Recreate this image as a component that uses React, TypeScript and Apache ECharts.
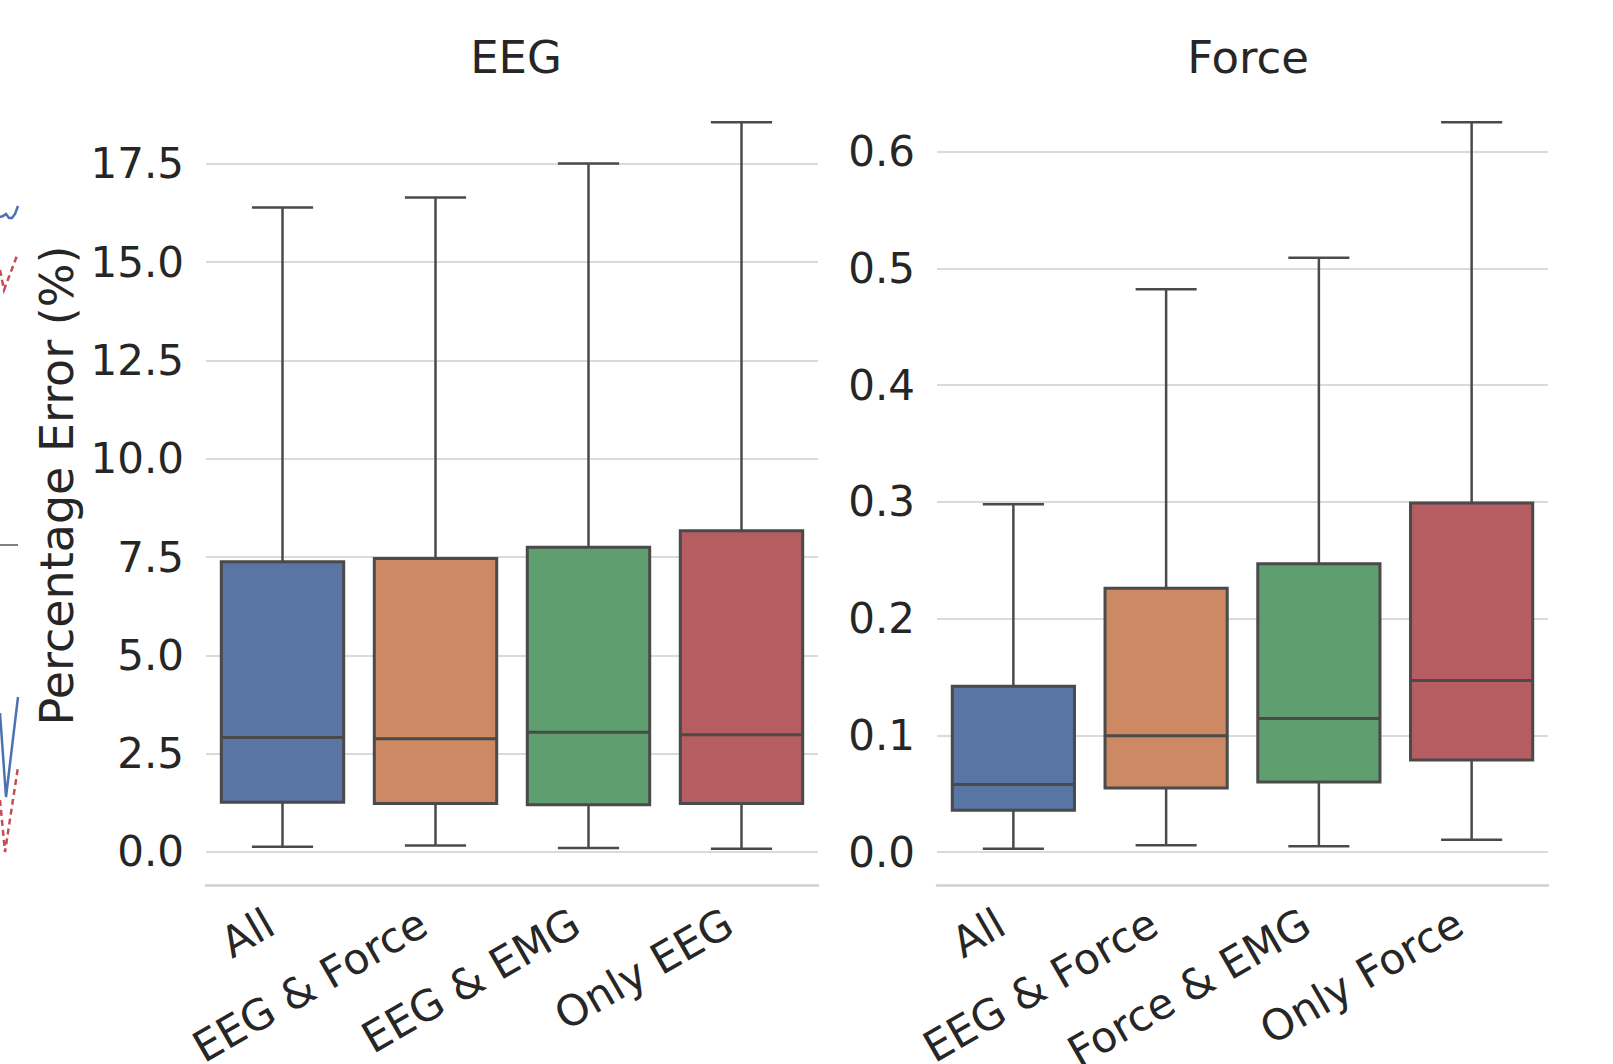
import React, { useEffect, useRef } from "react";
import * as echarts from "echarts";

// ---------- data ----------
const eegCategories = ["All", "EEG & Force", "EEG & EMG", "Only EEG"];
const forceCategories = ["All", "EEG & Force", "Force & EMG", "Only Force"];

// EEG panel (Percentage Error %)
const eegLower = [0.13, 0.16, 0.1, 0.08];
const eegQ1 = [1.26, 1.23, 1.2, 1.23];
const eegMedian = [2.91, 2.88, 3.04, 2.98];
const eegQ3 = [7.38, 7.46, 7.75, 8.17];
const eegUpper = [16.39, 16.65, 17.51, 18.56];

// Force panel
const forceLower = [0.003, 0.006, 0.005, 0.0106];
const forceQ1 = [0.036, 0.055, 0.06, 0.079];
const forceMedian = [0.058, 0.0996, 0.1145, 0.147];
const forceQ3 = [0.142, 0.226, 0.247, 0.299];
const forceUpper = [0.298, 0.482, 0.509, 0.625];

const boxColors = ["#5875a4", "#cc8963", "#5f9e6e", "#b55d60"];

const FONT = "DejaVu Sans";
const TEXT = "#262626";
const EDGE = "#4a4a4a";

function rows(lo: number[], q1: number[], med: number[], q3: number[], hi: number[]) {
  return lo.map((v, i) => [i, v, q1[i], med[i], q3[i], hi[i]]);
}

function axisRange(lo: number[], hi: number[]) {
  const mn = Math.min(...lo);
  const mx = Math.max(...hi);
  const m = (mx - mn) * 0.05;
  return [mn - m, mx + m];
}

function renderBox(params: any, api: any) {
  const idx = api.value(0);
  const lo = api.coord([idx, api.value(1)]);
  const q1 = api.coord([idx, api.value(2)]);
  const med = api.coord([idx, api.value(3)]);
  const q3 = api.coord([idx, api.value(4)]);
  const hi = api.coord([idx, api.value(5)]);
  const band = api.size([1, 0])[0];
  const bw = band * 0.8;
  const cw = band * 0.4;
  const x = lo[0];
  const ws = { stroke: EDGE, lineWidth: 2.5 };
  return {
    type: "group",
    children: [
      { type: "line", shape: { x1: x, y1: q3[1], x2: x, y2: hi[1] }, style: ws },
      { type: "line", shape: { x1: x, y1: q1[1], x2: x, y2: lo[1] }, style: ws },
      { type: "line", shape: { x1: x - cw / 2, y1: hi[1], x2: x + cw / 2, y2: hi[1] }, style: ws },
      { type: "line", shape: { x1: x - cw / 2, y1: lo[1], x2: x + cw / 2, y2: lo[1] }, style: ws },
      {
        type: "rect",
        shape: { x: x - bw / 2, y: q3[1], width: bw, height: q1[1] - q3[1] },
        style: { fill: boxColors[params.dataIndex], stroke: EDGE, lineWidth: 3 },
      },
      { type: "line", shape: { x1: x - bw / 2, y1: med[1], x2: x + bw / 2, y2: med[1] }, style: { stroke: EDGE, lineWidth: 3 } },
    ],
  };
}

function xAxisFor(gridIndex: number, data: string[]) {
  return {
    type: "category",
    gridIndex,
    data,
    boundaryGap: true,
    axisLine: { show: true, onZero: false, lineStyle: { color: "#cfcfcf", width: 2.5 } },
    axisTick: { show: false },
    splitLine: { show: false },
    axisLabel: {
      interval: 0,
      rotate: 30,
      margin: 28,
      padding: [0, 14, 0, 0],
      fontSize: 42.5,
      color: TEXT,
      fontFamily: FONT,
    },
  };
}

function yAxisFor(gridIndex: number, range: number[], step: number, name: string) {
  return {
    type: "value",
    gridIndex,
    min: range[0],
    max: range[1],
    splitNumber: 8,
    minInterval: step,
    maxInterval: step,
    name,
    nameLocation: "middle",
    nameRotate: 90,
    nameGap: 126,
    nameTextStyle: { fontSize: 46, color: TEXT, fontFamily: FONT },
    axisLine: { show: false },
    axisTick: { show: false },
    axisLabel: {
      showMinLabel: false,
      showMaxLabel: false,
      margin: 22,
      fontSize: 42,
      color: TEXT,
      fontFamily: FONT,
      formatter: (v: number) => {
        const k = v / step;
        return Math.abs(k - Math.round(k)) < 1e-6 ? v.toFixed(1) : "";
      },
    },
    splitLine: {
      show: true,
      showMinLine: false,
      showMaxLine: false,
      lineStyle: { color: "#dadada", width: 2 },
    },
  };
}

// fragments of the neighbouring (cropped) figure at the left edge
const fragBlueTop = [[0, 217], [3, 216], [6, 214], [9, 218], [12, 218], [15, 214], [18, 206]];
const fragRedTop = [[0, 270], [4, 290], [18, 253]];
const fragBlueBottom = [[0, 713], [6, 797], [18, 697]];
const fragRedBottom = [[0, 800], [5, 852], [18, 767]];

export default function App() {
  const ref = useRef<HTMLDivElement>(null);
  useEffect(() => {
    if (!ref.current) return;
    const chart = echarts.init(ref.current, undefined, { renderer: "svg" });
    const eegRange = axisRange(eegLower, eegUpper);
    const forceRange = axisRange(forceLower, forceUpper);
    chart.setOption({
      animation: false,
      backgroundColor: "#ffffff",
      title: [
        { text: "EEG", left: 511, top: 30, textAlign: "center", textStyle: { fontSize: 45, fontWeight: "normal", color: TEXT, fontFamily: FONT } },
        { text: "Force", left: 1243, top: 30, textAlign: "center", textStyle: { fontSize: 45, fontWeight: "normal", color: TEXT, fontFamily: FONT } },
      ],
      grid: [
        { left: 206, top: 86, width: 612, height: 799, containLabel: false, outerBoundsMode: "none" },
        { left: 937, top: 86, width: 611, height: 799, containLabel: false, outerBoundsMode: "none" },
      ],
      xAxis: [xAxisFor(0, eegCategories), xAxisFor(1, forceCategories)],
      yAxis: [
        yAxisFor(0, eegRange, 2.5, "Percentage Error (%)"),
        yAxisFor(1, forceRange, 0.1, ""),
      ],
      series: [
        {
          type: "custom",
          xAxisIndex: 0,
          yAxisIndex: 0,
          data: rows(eegLower, eegQ1, eegMedian, eegQ3, eegUpper),
          encode: { x: 0, y: [1, 2, 3, 4, 5] },
          renderItem: renderBox,
        },
        {
          type: "custom",
          xAxisIndex: 1,
          yAxisIndex: 1,
          data: rows(forceLower, forceQ1, forceMedian, forceQ3, forceUpper),
          encode: { x: 0, y: [1, 2, 3, 4, 5] },
          renderItem: renderBox,
        },
      ],
      graphic: [
        { type: "polyline", shape: { points: fragBlueTop }, style: { stroke: "#4c72b0", lineWidth: 2.5, fill: null } },
        { type: "polyline", shape: { points: fragRedTop }, style: { stroke: "#c44e52", lineWidth: 2.5, lineDash: [6, 4], fill: null } },
        { type: "polyline", shape: { points: fragBlueBottom }, style: { stroke: "#4c72b0", lineWidth: 2.5, fill: null } },
        { type: "polyline", shape: { points: fragRedBottom }, style: { stroke: "#c44e52", lineWidth: 2.5, lineDash: [6, 4], fill: null } },
        { type: "line", shape: { x1: 0, y1: 545, x2: 18, y2: 545 }, style: { stroke: "#555555", lineWidth: 1.5 } },
      ],
    });
    return () => chart.dispose();
  }, []);
  return (
    <div
      ref={ref}
      style={{ position: "absolute", left: 0, top: 0, width: 1613, height: 1064, background: "#fff" }}
    />
  );
}
